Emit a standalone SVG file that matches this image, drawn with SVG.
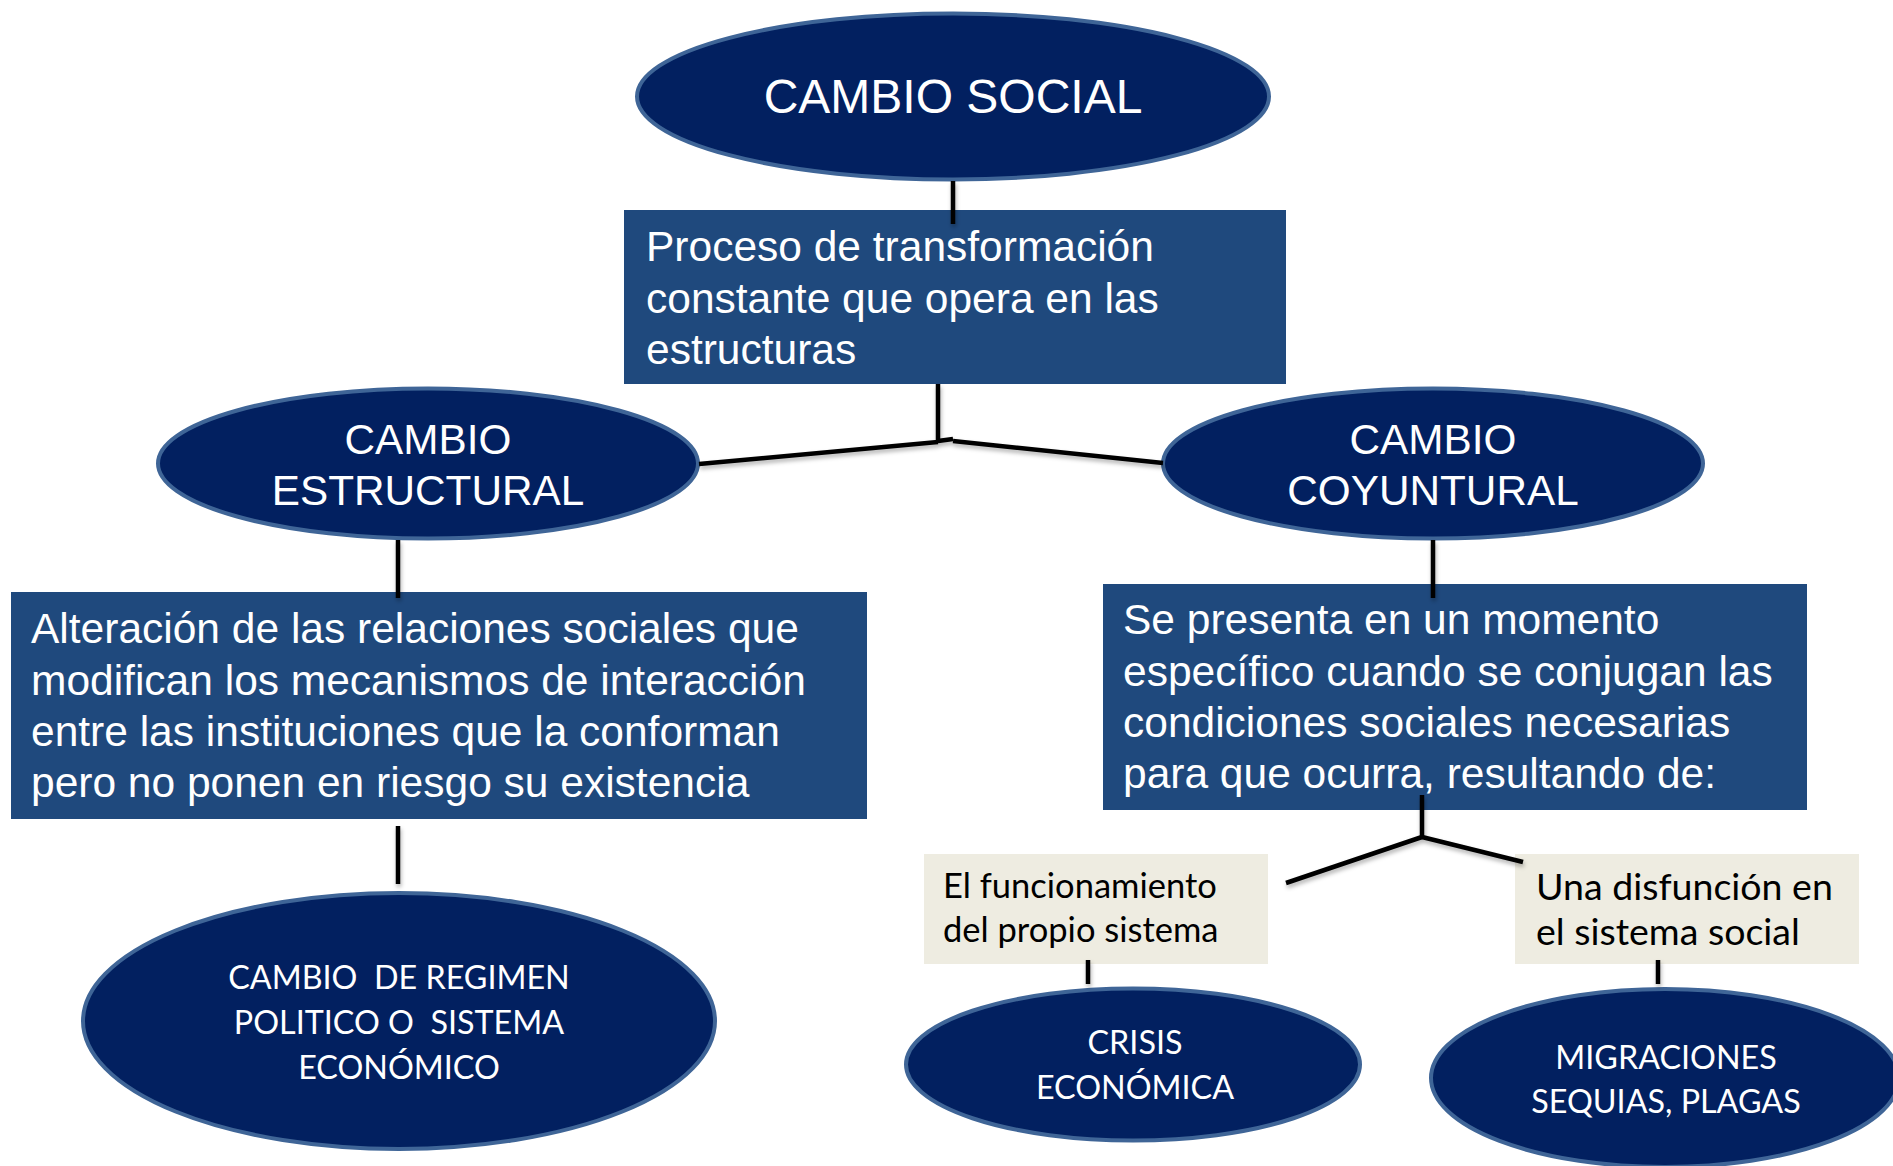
<svg xmlns="http://www.w3.org/2000/svg" width="1893" height="1166" viewBox="0 0 1893 1166">
<style>
.oval{fill:#022060;stroke:#3f6597;stroke-width:4}
.box{fill:#1F497D}
.tan{fill:#EEECE1}
.ar{font-family:"Liberation Sans",Arial,sans-serif;fill:#ffffff}
.arc{font-family:"Liberation Sans",Arial,sans-serif;fill:#ffffff;text-anchor:middle}
.cal{font-family:Lato,"Open Sans",sans-serif;fill:#ffffff;text-anchor:middle;font-size:32.3px;white-space:pre}
.calb{font-family:Lato,"Open Sans",sans-serif;fill:#000000}
.ln{stroke:#000000;stroke-width:4.5;fill:none;stroke-linecap:butt}
</style>
<defs>
<filter id="sh" x="-10%" y="-10%" width="120%" height="140%">
<feDropShadow dx="1" dy="3" stdDeviation="2" flood-color="#000000" flood-opacity="0.3"/>
</filter>
</defs>
<rect width="1893" height="1166" fill="#ffffff"/>

<g id="cambio-social">
<ellipse class="oval" cx="953" cy="96.5" rx="316" ry="83"/>
<text class="arc" x="953" y="113" font-size="48">CAMBIO SOCIAL</text>
</g>

<g id="proceso">
<rect class="box" x="624" y="210" width="662" height="174"/>
<text class="ar" font-size="42.5"><tspan x="646" y="261">Proceso de transformación</tspan><tspan x="646" y="313">constante que opera en las</tspan><tspan x="646" y="364">estructuras</tspan></text>
</g>

<g id="cambio-estructural">
<ellipse class="oval" cx="428" cy="463.5" rx="270" ry="75"/>
<text class="arc" font-size="42.3"><tspan x="428" y="454">CAMBIO</tspan><tspan x="428" y="505">ESTRUCTURAL</tspan></text>
</g>

<g id="cambio-coyuntural">
<ellipse class="oval" cx="1433" cy="463.5" rx="270" ry="75"/>
<text class="arc" font-size="42.3"><tspan x="1433" y="454">CAMBIO</tspan><tspan x="1433" y="505">COYUNTURAL</tspan></text>
</g>

<g id="alteracion">
<rect class="box" x="11" y="592" width="856" height="227"/>
<text class="ar" font-size="42.5"><tspan x="31" y="643">Alteración de las relaciones sociales que</tspan><tspan x="31" y="695">modifican los mecanismos de interacción</tspan><tspan x="31" y="746">entre las instituciones que la conforman</tspan><tspan x="31" y="797">pero no ponen en riesgo su existencia</tspan></text>
</g>

<g id="se-presenta">
<rect class="box" x="1103" y="584" width="704" height="226"/>
<text class="ar" font-size="42.5"><tspan x="1123" y="634">Se presenta en un momento</tspan><tspan x="1123" y="686">específico cuando se conjugan las</tspan><tspan x="1123" y="737">condiciones sociales necesarias</tspan><tspan x="1123" y="788">para que ocurra, resultando de:</tspan></text>
</g>

<g id="funcionamiento">
<rect class="tan" x="924" y="854" width="344" height="110"/>
<text class="calb" font-size="34.5"><tspan x="943" y="898">El funcionamiento</tspan><tspan x="943" y="942">del propio sistema</tspan></text>
</g>

<g id="disfuncion">
<rect class="tan" x="1515" y="854" width="344" height="110"/>
<text class="calb" font-size="37.5"><tspan x="1536" y="900">Una disfunción en</tspan><tspan x="1536" y="945">el sistema social</tspan></text>
</g>

<g id="cambio-regimen">
<ellipse class="oval" cx="399" cy="1021" rx="316" ry="128"/>
<text class="cal"><tspan x="399" y="989">CAMBIO  DE REGIMEN</tspan><tspan x="399" y="1034">POLITICO O  SISTEMA</tspan><tspan x="399" y="1079">ECONÓMICO</tspan></text>
</g>

<g id="crisis">
<ellipse class="oval" cx="1133" cy="1064.5" rx="227" ry="76"/>
<text class="cal"><tspan x="1135" y="1054">CRISIS</tspan><tspan x="1135" y="1099">ECONÓMICA</tspan></text>
</g>

<g id="migraciones">
<ellipse class="oval" cx="1665" cy="1078" rx="234" ry="89"/>
<text class="cal"><tspan x="1666" y="1069">MIGRACIONES</tspan><tspan x="1666" y="1113">SEQUIAS, PLAGAS</tspan></text>
</g>

<g id="connectors" class="ln" filter="url(#sh)">
<line x1="953" y1="181" x2="953" y2="224"/>
<line x1="938" y1="384" x2="938" y2="443"/>
<line x1="938" y1="442" x2="699" y2="464"/>
<line x1="938" y1="441" x2="953" y2="439"/>
<line x1="953" y1="441" x2="1163" y2="463"/>
<line x1="398" y1="540" x2="398" y2="598"/>
<line x1="398" y1="826" x2="398" y2="884"/>
<line x1="1433" y1="540" x2="1433" y2="598"/>
<line x1="1422" y1="795" x2="1422" y2="838"/>
<line x1="1422" y1="837" x2="1286" y2="883"/>
<line x1="1422" y1="837" x2="1523" y2="862"/>
<line x1="1088" y1="960" x2="1088" y2="984"/>
<line x1="1658" y1="960" x2="1658" y2="984"/>
</g>
</svg>
